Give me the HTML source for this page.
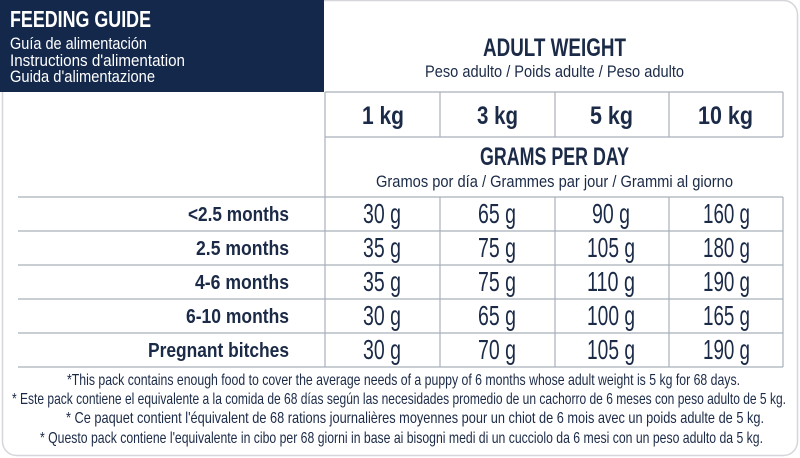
<!DOCTYPE html>
<html><head><meta charset="utf-8"><style>
html,body{margin:0;padding:0;background:#fff;width:800px;height:458px;overflow:hidden}
svg{display:block}
text{font-family:"Liberation Sans Narrow","Liberation Sans",sans-serif;fill:#1b2a47}
.b{font-weight:bold}
</style></head><body>
<svg width="800" height="458" viewBox="0 0 800 458" xmlns="http://www.w3.org/2000/svg">
<rect x="2.5" y="0.5" width="795" height="455" rx="14" fill="#fff" stroke="#d4d6da" stroke-width="1.5"/>
<rect x="0" y="0" width="324" height="92" fill="#13284b"/>
<g stroke="#a9afba" stroke-width="1.2" fill="none">
<line x1="325" y1="92" x2="783" y2="92"/>
<line x1="325" y1="137" x2="783" y2="137"/>
<line x1="325" y1="92" x2="325" y2="367"/>
<line x1="783" y1="92" x2="783" y2="137"/>
<line x1="440" y1="92" x2="440" y2="137"/>
<line x1="555" y1="92" x2="555" y2="137"/>
<line x1="669" y1="92" x2="669" y2="137"/>
<line x1="440" y1="197" x2="440" y2="367"/>
<line x1="555" y1="197" x2="555" y2="367"/>
<line x1="669" y1="197" x2="669" y2="367"/>
<line x1="783" y1="197" x2="783" y2="367"/>
<line x1="18" y1="197" x2="783" y2="197"/>
<line x1="18" y1="231" x2="783" y2="231"/>
<line x1="18" y1="265" x2="783" y2="265"/>
<line x1="18" y1="299" x2="783" y2="299"/>
<line x1="18" y1="333" x2="783" y2="333"/>
<line x1="18" y1="367" x2="783" y2="367"/>
</g>
<text x="10" y="27" class="b" font-size="23" textLength="141" lengthAdjust="spacingAndGlyphs" style="fill:#fff">FEEDING GUIDE</text>
<text x="10" y="49" font-size="17" textLength="137" lengthAdjust="spacingAndGlyphs" style="fill:#fff">Guía de alimentación</text>
<text x="10" y="66" font-size="17" textLength="175" lengthAdjust="spacingAndGlyphs" style="fill:#fff">Instructions d'alimentation</text>
<text x="10" y="82" font-size="17" textLength="145" lengthAdjust="spacingAndGlyphs" style="fill:#fff">Guida d'alimentazione</text>
<text x="483" y="56" class="b" font-size="25" textLength="143" lengthAdjust="spacingAndGlyphs">ADULT WEIGHT</text>
<text x="425" y="77" font-size="17" textLength="259" lengthAdjust="spacingAndGlyphs">Peso adulto / Poids adulte / Peso adulto</text>
<g class="b" font-size="25">
<text x="362" y="124" textLength="42" lengthAdjust="spacingAndGlyphs">1 kg</text>
<text x="477" y="124" textLength="41" lengthAdjust="spacingAndGlyphs">3 kg</text>
<text x="590" y="124" textLength="43" lengthAdjust="spacingAndGlyphs">5 kg</text>
<text x="698" y="124" textLength="55" lengthAdjust="spacingAndGlyphs">10 kg</text>
</g>
<text x="480" y="165" class="b" font-size="25" textLength="149" lengthAdjust="spacingAndGlyphs">GRAMS PER DAY</text>
<text x="376" y="187" font-size="17" textLength="357" lengthAdjust="spacingAndGlyphs">Gramos por día / Grammes par jour / Grammi al giorno</text>
<g class="b" font-size="20">
<text x="188" y="221" textLength="101" lengthAdjust="spacingAndGlyphs">&lt;2.5 months</text>
<text x="196" y="255" textLength="93" lengthAdjust="spacingAndGlyphs">2.5 months</text>
<text x="195" y="289" textLength="94" lengthAdjust="spacingAndGlyphs">4-6 months</text>
<text x="186" y="323" textLength="103" lengthAdjust="spacingAndGlyphs">6-10 months</text>
<text x="148" y="357" textLength="141" lengthAdjust="spacingAndGlyphs">Pregnant bitches</text>
</g>
<g font-size="28">
<text x="363" y="223" textLength="38" lengthAdjust="spacingAndGlyphs">30 g</text><text x="478" y="223" textLength="38" lengthAdjust="spacingAndGlyphs">65 g</text><text x="592" y="223" textLength="38" lengthAdjust="spacingAndGlyphs">90 g</text><text x="703" y="223" textLength="47" lengthAdjust="spacingAndGlyphs">160 g</text>
<text x="363" y="257" textLength="38" lengthAdjust="spacingAndGlyphs">35 g</text><text x="478" y="257" textLength="38" lengthAdjust="spacingAndGlyphs">75 g</text><text x="587" y="257" textLength="48" lengthAdjust="spacingAndGlyphs">105 g</text><text x="703" y="257" textLength="47" lengthAdjust="spacingAndGlyphs">180 g</text>
<text x="363" y="291" textLength="38" lengthAdjust="spacingAndGlyphs">35 g</text><text x="478" y="291" textLength="38" lengthAdjust="spacingAndGlyphs">75 g</text><text x="587" y="291" textLength="48" lengthAdjust="spacingAndGlyphs">110 g</text><text x="703" y="291" textLength="47" lengthAdjust="spacingAndGlyphs">190 g</text>
<text x="363" y="325" textLength="38" lengthAdjust="spacingAndGlyphs">30 g</text><text x="478" y="325" textLength="38" lengthAdjust="spacingAndGlyphs">65 g</text><text x="587" y="325" textLength="48" lengthAdjust="spacingAndGlyphs">100 g</text><text x="703" y="325" textLength="47" lengthAdjust="spacingAndGlyphs">165 g</text>
<text x="363" y="359" textLength="38" lengthAdjust="spacingAndGlyphs">30 g</text><text x="478" y="359" textLength="38" lengthAdjust="spacingAndGlyphs">70 g</text><text x="587" y="359" textLength="48" lengthAdjust="spacingAndGlyphs">105 g</text><text x="703" y="359" textLength="47" lengthAdjust="spacingAndGlyphs">190 g</text>
</g>
<g font-size="16">
<text x="67" y="385" textLength="673" lengthAdjust="spacingAndGlyphs">*This pack contains enough food to cover the average needs of a puppy of 6 months whose adult weight is 5 kg for 68 days.</text>
<text x="12" y="404" textLength="774" lengthAdjust="spacingAndGlyphs">* Este pack contiene el equivalente a la comida de 68 días según las necesidades promedio de un cachorro de 6 meses con peso adulto de 5 kg.</text>
<text x="66" y="423" textLength="698" lengthAdjust="spacingAndGlyphs">* Ce paquet contient l'équivalent de 68 rations journalières moyennes pour un chiot de 6 mois avec un poids adulte de 5 kg.</text>
<text x="40" y="443" textLength="723" lengthAdjust="spacingAndGlyphs">* Questo pack contiene l'equivalente in cibo per 68 giorni in base ai bisogni medi di un cucciolo da 6 mesi con un peso adulto da 5 kg.</text>
</g>
</svg>
</body></html>
